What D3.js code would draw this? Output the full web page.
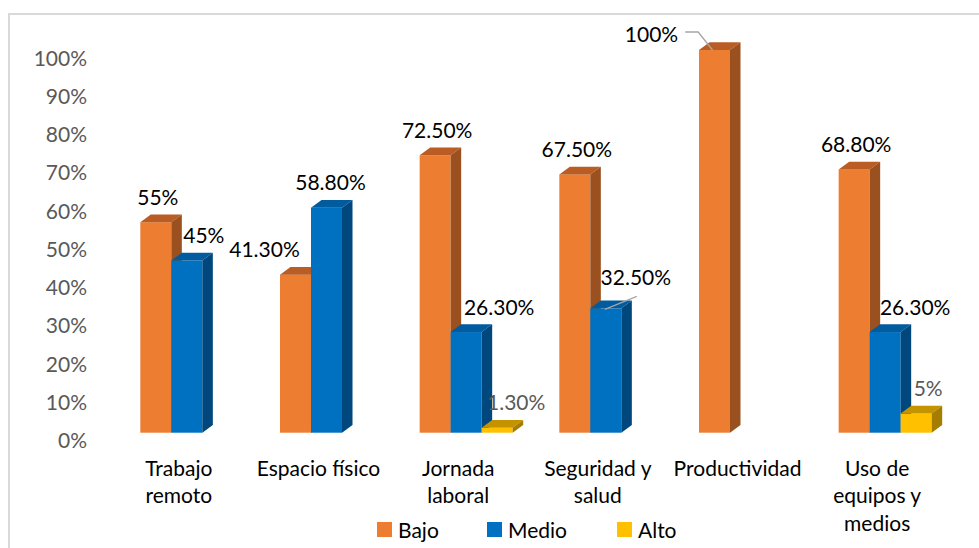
<!DOCTYPE html>
<html>
<head>
<meta charset="utf-8">
<script src="https://cdn.jsdelivr.net/npm/d3@7"></script>
<style>
  body { margin: 0; background: #fff; }
  svg { display: block; font-family: Lato, "Open Sans", sans-serif; }
</style>
</head>
<body>
<div id="chart"></div>
<script>
// data
const categories = ["Trabajo\nremoto", "Espacio físico", "Jornada\nlaboral", "Seguridad y\nsalud", "Productividad", "Uso de\nequipos y\nmedios"];
const seriesNames = ["Bajo", "Medio", "Alto"];
const bajo  = [55, 41.3, 72.5, 67.5, 100, 68.8];
const medio = [45, 58.8, 26.3, 32.5, null, 26.3];
const alto  = [null, null, 1.3, null, null, 5];
const yTicks = [0, 10, 20, 30, 40, 50, 60, 70, 80, 90, 100];

// look
const W = 979, H = 548;
const FS = 21;
const colors = {
  Bajo:  { front: "#ED7D31", top: "#B95D24", side: "#9A501F" },
  Medio: { front: "#0070C0", top: "#005C9E", side: "#00477D" },
  Alto:  { front: "#FFC000", top: "#C39300", side: "#A57D00" }
};
const depth = { dx: 10.5, dy: -7.7 };
// label nudges (px) relative to the default spot above the bar
const nudge = {
  "Medio|0": { x: 15 },
  "Bajo|1": { x: -33 },
  "Medio|1": { x: 2 },
  "Medio|2": { x: 31 },
  "Alto|2": { x: 17, color: "#595959" },
  "Medio|3": { x: 28, y: -6, leader: "under" },
  "Bajo|4": { x: -65, y: 9, leader: "side" },
  "Medio|5": { x: 28 },
  "Alto|5": { x: 10, color: "#595959" }
};

const svg = d3.select("#chart").append("svg")
  .attr("width", W).attr("height", H);

// chart frame
svg.append("rect")
  .attr("x", 9).attr("y", 14).attr("width", 1000).attr("height", 600)
  .attr("fill", "none").attr("stroke", "#d9d9d9").attr("stroke-width", 2);

const x0 = d3.scaleBand().domain(d3.range(categories.length))
  .range([117, 955]).paddingInner(0.334).paddingOuter(0.167);
const x1 = d3.scaleBand().domain(seriesNames).range([0, x0.bandwidth()]);
const y = d3.scaleLinear().domain([0, 100]).range([432.7, 50]);

// y axis labels
svg.append("g").selectAll("text")
  .data(yTicks).enter().append("text")
  .attr("x", 87)
  .attr("y", (d) => y(d) + 8)
  .attr("dy", "0.36em")
  .attr("text-anchor", "end")
  .attr("font-size", FS)
  .attr("fill", "#595959")
  .text((d) => d + "%");

const seriesData = { Bajo: bajo, Medio: medio, Alto: alto };
let bars = [];
categories.forEach((c, i) => {
  seriesNames.forEach((s) => {
    const v = seriesData[s][i];
    if (v === null || v === undefined) return;
    bars.push({ s, i, v, x: x0(i) + x1(s), w: x1.bandwidth(), top: y(v), base: y(0) });
  });
});

const g = svg.append("g");
const bar = g.selectAll(".bar").data(bars).enter().append("g").attr("class", "bar");
bar.append("rect")
  .attr("x", (d) => d.x).attr("y", (d) => d.top)
  .attr("width", (d) => d.w).attr("height", (d) => d.base - d.top)
  .attr("fill", (d) => colors[d.s].front);
bar.append("path")
  .attr("d", (d) => `M${d.x},${d.top}L${d.x + depth.dx},${d.top + depth.dy}L${d.x + d.w + depth.dx},${d.top + depth.dy}L${d.x + d.w},${d.top}Z`)
  .attr("fill", (d) => colors[d.s].top);
bar.append("path")
  .attr("d", (d) => `M${d.x + d.w},${d.top}L${d.x + d.w + depth.dx},${d.top + depth.dy}L${d.x + d.w + depth.dx},${d.base + depth.dy}L${d.x + d.w},${d.base}Z`)
  .attr("fill", (d) => colors[d.s].side);

// data labels
const fmt = (v) => (Number.isInteger(v) ? v : v.toFixed(2)) + "%";
bars.forEach((d) => {
  const n = nudge[d.s + "|" + d.i] || {};
  const cx = d.x + d.w / 2 + 2 + (n.x || 0);
  const cy = d.top - 25 + (n.y || 0);
  const t = svg.append("text")
    .attr("x", cx).attr("y", cy).attr("dy", "0.36em")
    .attr("text-anchor", "middle")
    .attr("font-size", FS)
    .attr("fill", n.color || "#000")
    .text(fmt(d.v));
  const bw = t.node().getBBox().width;
  if (n.leader === "side") {
    const lx = cx + bw / 2 + 7;
    svg.append("polyline")
      .attr("points", [[lx, cy - 2], [lx + 13, cy - 2], [d.x + d.w / 2 - 2, d.top]].join(" "))
      .attr("fill", "none").attr("stroke", "#a6a6a6").attr("stroke-width", 1.3);
  } else if (n.leader === "under") {
    svg.append("line")
      .attr("x1", d.x + d.w / 2 - 1).attr("y1", d.top + 1)
      .attr("x2", cx + 1).attr("y2", cy + 19)
      .attr("stroke", "#a6a6a6").attr("stroke-width", 1.3);
  }
});

// category labels
const cat = svg.append("g").selectAll("text")
  .data(categories).enter().append("text")
  .attr("text-anchor", "middle")
  .attr("font-size", FS)
  .attr("fill", "#000");
cat.each(function (c, i) {
  const lines = c.split("\n");
  d3.select(this).selectAll("tspan").data(lines).enter().append("tspan")
    .attr("x", x0(i) + x0.bandwidth() / 2 - 8)
    .attr("y", (l, k) => 468 + k * 27.5)
    .attr("dy", "0.36em")
    .text((l) => l);
});

// legend
const legendX = [377, 487, 617];
const lg = svg.append("g").selectAll("g")
  .data(seriesNames).enter().append("g")
  .attr("transform", (d, k) => `translate(${legendX[k]},522)`);
lg.append("rect").attr("width", 15).attr("height", 15)
  .attr("fill", (d) => colors[d].front);
lg.append("text").attr("x", 21).attr("y", 8).attr("dy", "0.36em")
  .attr("font-size", FS).attr("fill", "#000").text((d) => d);
</script>
</body>
</html>
